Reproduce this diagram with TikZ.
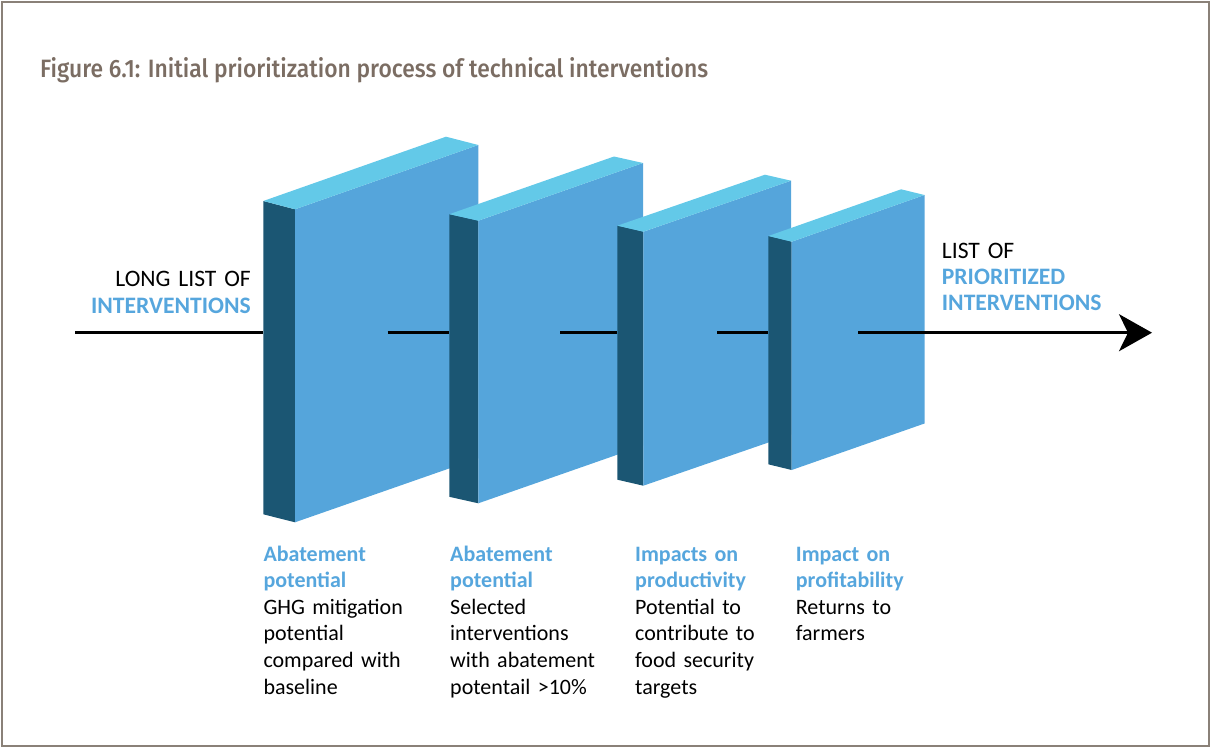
\documentclass[tikz,border=0pt]{standalone}
\usepackage{fontspec}
\setmainfont{Carlito}
\newfontfamily\titlefont{Fira Sans}[UprightFont={* Medium}]
\usetikzlibrary{arrows.meta}
\definecolor{frontc}{HTML}{55A5DB}
\definecolor{topc}{HTML}{63C9E8}
\definecolor{sidec}{HTML}{1B5673}
\definecolor{labelc}{HTML}{56A6DD}
\definecolor{titlec}{HTML}{7B6D63}
\definecolor{framec}{HTML}{8A8178}
\tikzset{
  frontface/.style={fill=frontc},
  topface/.style={fill=topc},
  sideface/.style={fill=sidec},
  flowline/.style={line width=2.6bp, black},
  sidetext/.style={inner sep=0pt, text width=220bp, font=\fontsize{23.6bp}{27bp}\selectfont},
  steptext/.style={inner sep=0pt, anchor=base west, text width=175bp, align=left, font=\fontsize{22bp}{26.6bp}\selectfont},
  hl/.style={labelc}
}
\newcommand{\hlb}[1]{\textcolor{labelc}{\bfseries #1}}
\begin{document}
\begin{tikzpicture}[x=1bp, y=-1bp]
\useasboundingbox (0,0) rectangle (1212,749);
\draw[framec, line width=1.5bp] (2,2) rectangle (1209,746);
% title
\node[anchor=base west, inner sep=0pt, text=titlec] (title) at (40,78)
  {\resizebox{668bp}{20bp}{\titlefont Figure 6.1: Initial prioritization process of technical interventions}};

% connector segments
\coordinate (a0) at (75,332.7);
\coordinate (a1) at (263.3,332.7);
\coordinate (b0) at (387.7,332.7);
\coordinate (b1) at (449.3,332.7);
\coordinate (c0) at (560,332.7);
\coordinate (c1) at (617.3,332.7);
\coordinate (d0) at (717,332.7);
\coordinate (d1) at (768.3,332.7);
\coordinate (e0) at (858,332.7);
\coordinate (e1) at (1152,332.7);

\draw[flowline] (a0) -- (a1);

% panel 1
\fill[sideface] (263.3,201) -- (295,209.3) -- (295,522.3) -- (263.3,514.3) -- cycle;
\fill[frontface] (295,209.3) -- (478.3,145) -- (478.3,458.3) -- (295,522.3) -- cycle;
\fill[topface] (263.3,201) -- (446,136.7) -- (478.3,145) -- (295,209.3) -- cycle;
% panel 2
\fill[sideface] (449.3,214.2) -- (478.3,220.7) -- (478.3,503.3) -- (449.3,496.8) -- cycle;
\fill[frontface] (478.3,220.7) -- (643,163) -- (643,445.7) -- (478.3,503.3) -- cycle;
\fill[topface] (449.3,214.2) -- (614,156.5) -- (643,163) -- (478.3,220.7) -- cycle;
% panel 3
\fill[sideface] (617.3,225.7) -- (643.3,231.7) -- (643.3,485.7) -- (617.3,479.7) -- cycle;
\fill[frontface] (643.3,231.7) -- (791,180.7) -- (791,434.7) -- (643.3,485.7) -- cycle;
\fill[topface] (617.3,225.7) -- (765,174.7) -- (791,180.7) -- (643.3,231.7) -- cycle;
% panel 4
\fill[sideface] (768.3,236) -- (791.7,241.7) -- (791.7,470) -- (768.3,464.3) -- cycle;
\fill[frontface] (791.7,241.7) -- (924.5,195) -- (924.5,423.5) -- (791.7,470) -- cycle;
\fill[topface] (768.3,236) -- (901.1,189.3) -- (924.5,195) -- (791.7,241.7) -- cycle;

\draw[flowline] (b0) -- (b1);
\draw[flowline] (c0) -- (c1);
\draw[flowline] (d0) -- (d1);
\draw[flowline, -{Stealth[length=33bp, width=37bp, inset=9bp]}] (e0) -- (e1);

% side texts
\node[sidetext, anchor=base east, align=right] (inlist) at (251,286.7)
  {LONG LIST OF\\ \hlb{INTERVENTIONS}};
\node[sidetext, anchor=base west, align=left, font=\fontsize{23.6bp}{26.2bp}\selectfont] (outlist) at (941.7,258.3)
  {LIST OF\\ \hlb{PRIORITIZED}\\ \hlb{INTERVENTIONS}};

% step texts
\node[steptext] (s1) at (263.3,561)
  {\hlb{Abatement}\\ \hlb{potential}\\ GHG mitigation\\ potential\\ compared with\\ baseline};
\node[steptext] (s2) at (450,561)
  {\hlb{Abatement}\\ \hlb{potential}\\ Selected\\ interventions\\ with abatement\\ potentail >10\%};
\node[steptext] (s3) at (635,561)
  {\hlb{Impacts on}\\ \hlb{productivity}\\ Potential to\\ contribute to\\ food security\\ targets};
\node[steptext] (s4) at (795.7,561)
  {\hlb{Impact on}\\ \hlb{profitability}\\ Returns to\\ farmers};
\end{tikzpicture}
\end{document}
